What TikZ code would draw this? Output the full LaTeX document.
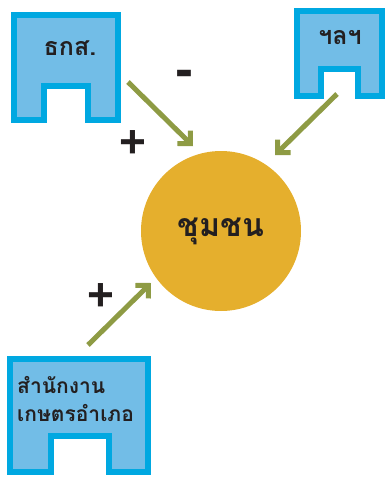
\documentclass[tikz,border=0pt]{standalone}
\usepackage{fontspec}
\newfontfamily\thaifont[Script=Thai]{Loma}
\newfontfamily\signfont{Liberation Sans}
\usetikzlibrary{arrows.meta}
\definecolor{boxline}{HTML}{00A8E1}
\definecolor{boxfill}{HTML}{72BDE7}
\definecolor{sunfill}{HTML}{E5AF2D}
\definecolor{arrowgreen}{HTML}{8E9B44}
\definecolor{inkdark}{HTML}{231F20}
\tikzset{
  officebox/.style={draw=boxline, fill=boxfill, line width=6pt, line join=miter},
  link/.style={draw=arrowgreen, line width=5pt, -{Straight Barb[angle=90:13pt, line cap=butt, line join=miter]}},
  thaitext/.style={text=inkdark, font=\thaifont\bfseries\fontsize{21}{28}\selectfont, inner sep=0pt},
  sign/.style={text=inkdark, font=\signfont\bfseries\fontsize{46}{46}\selectfont, inner sep=0pt}
}
\begin{document}
\begin{tikzpicture}[x=1pt,y=-1pt]
\useasboundingbox (0,0) rectangle (385,483);
\draw[officebox] (14,15) -- (118,15) -- (118,120) -- (88,120) -- (88,85.5) -- (44,85.5) -- (44,120) -- (14,120) -- cycle;
\node[thaitext, font=\thaifont\bfseries\fontsize{25}{28}\selectfont] (baac) at (70,48) {ธกส.};
\draw[officebox] (297,11) -- (381.5,11) -- (381.5,96) -- (357.5,96) -- (357.5,68.5) -- (321,68.5) -- (321,96) -- (297,96) -- cycle;
\node[thaitext, font=\thaifont\bfseries\fontsize{25}{28}\selectfont] (etc) at (340,38) {ฯลฯ};
\draw[officebox] (10,359) -- (147.5,359) -- (147.5,472) -- (108.5,472) -- (108.5,435.5) -- (50.5,435.5) -- (50.5,472) -- (10,472) -- cycle;
\node[thaitext, align=left, anchor=west] (office) at (17,399) {สำนักงาน\\เกษตรอำเภอ};
\node[circle, fill=sunfill, minimum size=160pt, inner sep=0pt, text=inkdark, font=\thaifont\bfseries\fontsize{32}{32}\selectfont] (community) at (221,231) {ชุมชน};
\coordinate (baacout) at (128,82);
\coordinate (baacin) at (193,146);
\coordinate (etcout) at (337,94);
\coordinate (etcin) at (275,155);
\coordinate (officeout) at (88,345);
\coordinate (officein) at (151,283);
\draw[link] (baacout) -- (baacin);
\draw[link] (etcout) -- (etcin);
\draw[link] (officeout) -- (officein);
\node[sign, font=\signfont\bfseries\fontsize{54}{54}\selectfont] (minus) at (184,79) {-};
\node[sign] (plusbaac) at (133,144.5) {+};
\node[sign] (plusoffice) at (101,297) {+};
\end{tikzpicture}
\end{document}
